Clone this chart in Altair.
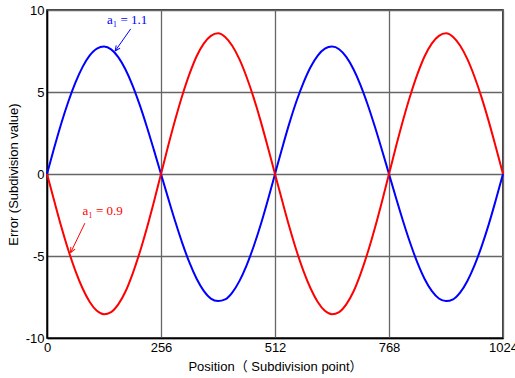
import altair as alt
import pandas as pd

# Subdivision error curves, sampled every 16 subdivision points
positions = list(range(0, 1025, 16))

error_a11 = [
    0, 1.58, 3.08, 4.42, 5.58, 6.53, 7.23, 7.65, 7.77, 7.60, 7.13, 6.39, 5.41, 4.23, 2.90, 1.47, 0,
    -1.47, -2.90, -4.23, -5.41, -6.39, -7.13, -7.60, -7.75, -7.65, -7.23, -6.53, -5.58, -4.42, -3.08, -1.58, 0,
    1.57, 3.07, 4.42, 5.57, 6.52, 7.22, 7.64, 7.77, 7.61, 7.14, 6.40, 5.42, 4.24, 2.91, 1.48, 0,
    -1.48, -2.91, -4.24, -5.42, -6.40, -7.13, -7.59, -7.75, -7.64, -7.22, -6.52, -5.57, -4.41, -3.07, -1.57, 0,
]

error_a09 = [
    0, -1.62, -3.20, -4.65, -5.92, -6.98, -7.80, -8.34, -8.55, -8.42, -7.95, -7.18, -6.10, -4.80, -3.32, -1.70, 0,
    1.70, 3.32, 4.80, 6.10, 7.18, 7.95, 8.42, 8.58, 8.36, 7.82, 7.00, 5.93, 4.66, 3.21, 1.63, 0,
    -1.62, -3.20, -4.65, -5.92, -6.98, -7.80, -8.34, -8.55, -8.42, -7.95, -7.18, -6.10, -4.80, -3.32, -1.70, 0,
    1.70, 3.32, 4.80, 6.10, 7.18, 7.95, 8.42, 8.58, 8.36, 7.82, 7.00, 5.93, 4.66, 3.21, 1.63, 0,
]

series_names = ["a1=1.1", "a1=0.9"]
series_colors = ["#0000ff", "#ff0000"]

x_ticks = [0, 256, 512, 768, 1024]
y_ticks = [-10, -5, 0, 5, 10]

# Callout labels with arrows
label_text = ["a\u2081 = 1.1", "a\u2081 = 0.9"]
label_x = [180, 125]
label_y = [9.39, -2.24]
arrow_tail_x = [188, 85]
arrow_tail_y = [8.85, -3.0]
arrow_tip_x = [153, 53]
arrow_tip_y = [7.5, -4.8]
arrow_angle = [215, 206]

curves = pd.DataFrame({
    "Position": positions * 2,
    "Error": error_a11 + error_a09,
    "series": [series_names[0]] * len(positions) + [series_names[1]] * len(positions),
})

notes = pd.DataFrame({
    "text": label_text,
    "lx": label_x,
    "ly": label_y,
    "tx": arrow_tail_x,
    "ty": arrow_tail_y,
    "hx": arrow_tip_x,
    "hy": arrow_tip_y,
    "angle": arrow_angle,
    "series": series_names,
})

FONT = "Liberation Sans, Arial, Noto Sans CJK SC"

x_scale = alt.Scale(domain=[0, 1024], nice=False, zero=False)
y_scale = alt.Scale(domain=[-10, 10], nice=False, zero=False)
color_scale = alt.Scale(domain=series_names, range=series_colors)

x_enc = alt.X(
    "Position:Q",
    scale=x_scale,
    axis=alt.Axis(
        values=x_ticks,
        title="Position\uff08 Subdivision point\uff09",
        labelExpr="datum.value + ''",
        labelFlush=False,
        labelPadding=3,
        titlePadding=6,
    ),
)
y_enc = alt.Y(
    "Error:Q",
    scale=y_scale,
    axis=alt.Axis(
        values=y_ticks,
        title="Error (Subdivision value)",
        labelExpr="datum.value + ''",
        labelFlush=False,
        labelPadding=3,
        titlePadding=5,
    ),
)

lines = alt.Chart(curves).mark_line(strokeWidth=2, interpolate="monotone").encode(
    x=x_enc,
    y=y_enc,
    color=alt.Color("series:N", scale=color_scale, legend=None),
    detail="series:N",
)

arrows = alt.Chart(notes).mark_rule(strokeWidth=1).encode(
    x=alt.X("tx:Q", scale=x_scale),
    y=alt.Y("ty:Q", scale=y_scale),
    x2="hx:Q",
    y2="hy:Q",
    color=alt.Color("series:N", scale=color_scale, legend=None),
)

heads = alt.Chart(notes).mark_point(
    shape="M0,0L-0.45,1M0,0L0.45,1", filled=False, strokeWidth=1, size=110, opacity=1
).encode(
    x=alt.X("hx:Q", scale=x_scale),
    y=alt.Y("hy:Q", scale=y_scale),
    angle=alt.Angle("angle:Q", scale=None),
    color=alt.Color("series:N", scale=color_scale, legend=None),
)

labels = alt.Chart(notes).mark_text(
    font="Liberation Serif, Times New Roman", fontSize=13, align="center", baseline="middle"
).encode(
    x=alt.X("lx:Q", scale=x_scale),
    y=alt.Y("ly:Q", scale=y_scale),
    text="text:N",
    color=alt.Color("series:N", scale=color_scale, legend=None),
)

chart = (
    alt.layer(lines, arrows, heads, labels)
    .properties(
        width=456,
        height=328,
        autosize=alt.AutoSizeParams(type="none"),
        padding={"left": 47, "top": 10, "right": 12, "bottom": 40},
        background="white",
    )
    .configure_view(stroke="black", strokeWidth=1.5)
    .configure_axis(
        grid=True,
        gridColor="#666666",
        gridWidth=1.3,
        gridOpacity=1,
        domainColor="black",
        domainWidth=1.5,
        ticks=False,
        labelFont=FONT,
        labelFontSize=13,
        labelColor="black",
        titleFont=FONT,
        titleFontSize=13,
        titleFontWeight="normal",
        titleColor="black",
    )
)

chart.save("out.html", embed_options={"renderer": "svg", "actions": False})
